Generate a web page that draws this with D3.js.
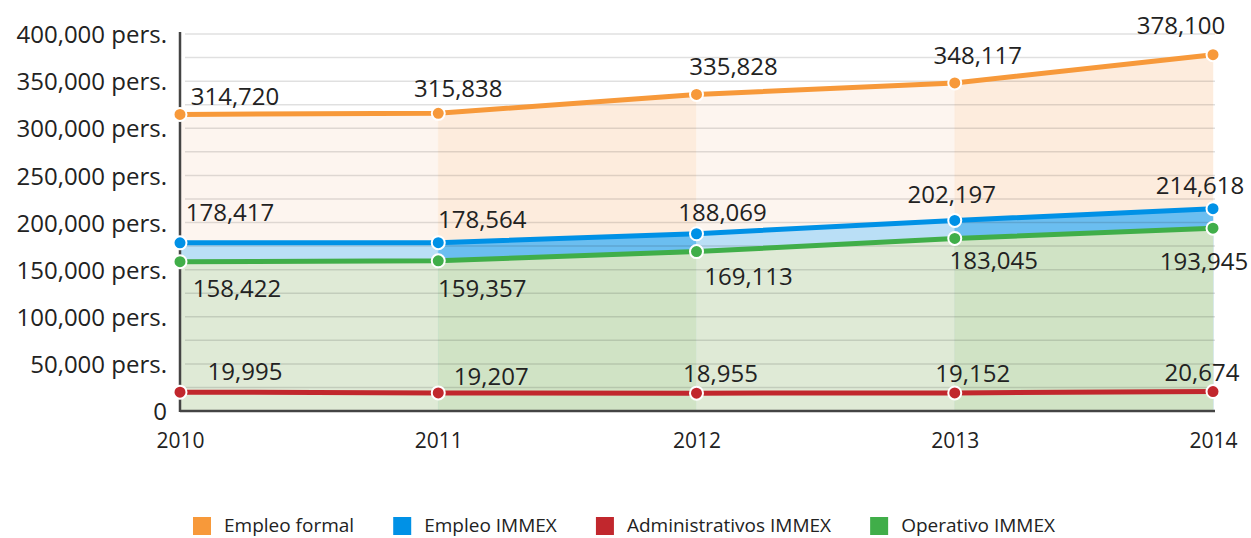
<!DOCTYPE html>
<html>
<head>
<meta charset="utf-8">
<script src="https://cdn.jsdelivr.net/npm/d3@7"></script>
<style>
  body { margin: 0; background: #fff; }
  svg { display: block; font-family: "Open Sans", sans-serif; }
</style>
</head>
<body>
<svg id="chart" width="1251" height="538"></svg>
<script>
// Data
const years = ["2010", "2011", "2012", "2013", "2014"];
const seriesNames = ["Empleo formal", "Empleo IMMEX", "Administrativos IMMEX", "Operativo IMMEX"];
const empleoFormal = [314720, 315838, 335828, 348117, 378100];
const empleoImmex = [178417, 178564, 188069, 202197, 214618];
const administrativos = [19995, 19207, 18955, 19152, 20674];
const operativo = [158422, 159357, 169113, 183045, 193945];
const yTicks = [0, 50000, 100000, 150000, 200000, 250000, 300000, 350000, 400000];

// Colours: line, light band, dark band
const colors = {
  formal: { line: "#f7993a", light: "#fdf5ef", dark: "#fdecdd" },
  immex:  { line: "#0091e6", light: "#badff6", dark: "#6bbef0" },
  admin:  { line: "#c1272d", light: null, dark: null },
  oper:   { line: "#40ae49", light: "#dfead6", dark: "#d0e3c5" }
};

// Label nudges (relative to each point), so they sit like in the original
const labelDx = {
  formal: [55, 20, 37, 23, -32],
  immex:  [50, 44, 26, -3, -13],
  admin:  [65, 53, 24, 18, -11],
  oper:   [57, 44, 52, 39, -9]
};
const labelDy = {
  formal: [-9, -16, -19, -19, -21],
  immex:  [-22, -15, -13, -17, -15],
  admin:  [-12, -8, -11, -11, -11],
  oper:   [35, 36, 33, 31, 42]
};

const series = [
  { key: "formal", name: seriesNames[0], values: empleoFormal },
  { key: "immex",  name: seriesNames[1], values: empleoImmex },
  { key: "oper",   name: seriesNames[3], values: operativo },
  { key: "admin",  name: seriesNames[2], values: administrativos }
];

const svg = d3.select("#chart");
const x = d3.scalePoint().domain(years).range([180, 1213]);
const y = d3.scaleLinear().domain([0, 400000]).range([411, 34]);

// Areas, drawn per interval so alternating columns get their own shade
const area = d3.area().x(d => x(d.year)).y0(y(0)).y1(d => y(d.value));
const areas = svg.append("g").attr("class", "areas");
series.forEach(s => {
  const c = colors[s.key];
  if (!c.light) return;
  for (let i = 0; i < years.length - 1; i++) {
    const seg = [i, i + 1].map(j => ({ year: years[j], value: s.values[j] }));
    areas.append("path")
      .attr("d", area(seg))
      .attr("fill", i % 2 === 0 ? c.light : c.dark)
      .attr("stroke", i % 2 === 0 ? c.light : c.dark)
      .attr("stroke-width", 0.5);
  }
});

// Gridlines every 25,000 on top of the fills
const gridVals = d3.range(25000, 400001, 25000);
svg.append("g").attr("class", "grid")
  .selectAll("line").data(gridVals).join("line")
  .attr("x1", 185).attr("x2", x("2014") + 2)
  .attr("y1", d => y(d)).attr("y2", d => y(d))
  .attr("stroke", "#000").attr("stroke-opacity", 0.12).attr("stroke-width", 1.5);

// Axes
const yAxis = d3.axisLeft(y).tickValues(yTicks).tickSize(0).tickPadding(13)
  .tickFormat(d => d === 0 ? "0" : d3.format(",")(d) + " pers.");
const gy = svg.append("g").attr("transform", `translate(${x("2010")},0)`).call(yAxis)
  .attr("font-family", null).attr("font-size", null);
gy.select(".domain").attr("stroke", "#444").attr("stroke-width", 2.5)
  .attr("d", `M0,${y(400000) - 2}V${y(0) + 1}`);
gy.selectAll("text").attr("font-size", 24).attr("fill", "#222").attr("dy", "0.36em");

const xAxis = d3.axisBottom(x).tickSize(0).tickPadding(22);
const gx = svg.append("g").attr("transform", `translate(0,${y(0)})`).call(xAxis)
  .attr("font-family", null).attr("font-size", null);
gx.select(".domain").attr("stroke", "#444").attr("stroke-width", 2.5)
  .attr("d", `M${x("2010")},0H${x("2014") + 2}`);
gx.selectAll("text").attr("font-size", 21).attr("fill", "#222");

// Lines and points
const line = d3.line().x(d => x(d.year)).y(d => y(d.value));
const marks = svg.append("g").attr("class", "marks");
series.slice().reverse().forEach(s => {
  const pts = s.values.map((v, i) => ({ year: years[i], value: v }));
  marks.append("path").datum(pts)
    .attr("d", line).attr("fill", "none")
    .attr("stroke", colors[s.key].line).attr("stroke-width", 5);
});
series.slice().reverse().forEach(s => {
  const pts = s.values.map((v, i) => ({ year: years[i], value: v }));
  marks.append("g").selectAll("circle").data(pts).join("circle")
    .attr("cx", d => x(d.year)).attr("cy", d => y(d.value)).attr("r", 6.5)
    .attr("fill", colors[s.key].line).attr("stroke", "#fff").attr("stroke-width", 2);
});

// Value labels
const labels = svg.append("g").attr("class", "labels");
series.forEach(s => {
  labels.append("g").selectAll("text").data(s.values).join("text")
    .attr("x", (d, i) => x(years[i]) + labelDx[s.key][i])
    .attr("y", (d, i) => y(d) + labelDy[s.key][i])
    .attr("text-anchor", "middle")
    .attr("font-size", 24).attr("fill", "#222")
    .text(d => d3.format(",")(d));
});

// Legend, spread between the measured ends and laid out from text widths
const legendOrder = [
  { name: seriesNames[0], color: colors.formal.line },
  { name: seriesNames[1], color: colors.immex.line },
  { name: seriesNames[2], color: colors.admin.line },
  { name: seriesNames[3], color: colors.oper.line }
];
const legend = svg.append("g").attr("class", "legend");
const items = legend.selectAll("g").data(legendOrder).join("g");
items.append("rect").attr("width", 18).attr("height", 18).attr("y", 517)
  .attr("fill", d => d.color);
items.append("text").attr("x", 31).attr("y", 532)
  .attr("font-size", 19).attr("fill", "#222").text(d => d.name);
const widths = items.nodes().map(n => n.getBBox().width);
const left = 193, right = 1055;
const gap = (right - left - d3.sum(widths)) / (widths.length - 1);
let cx = left;
items.each(function(d, i) {
  d3.select(this).attr("transform", `translate(${cx},0)`);
  cx += widths[i] + gap;
});
</script>
</body>
</html>
